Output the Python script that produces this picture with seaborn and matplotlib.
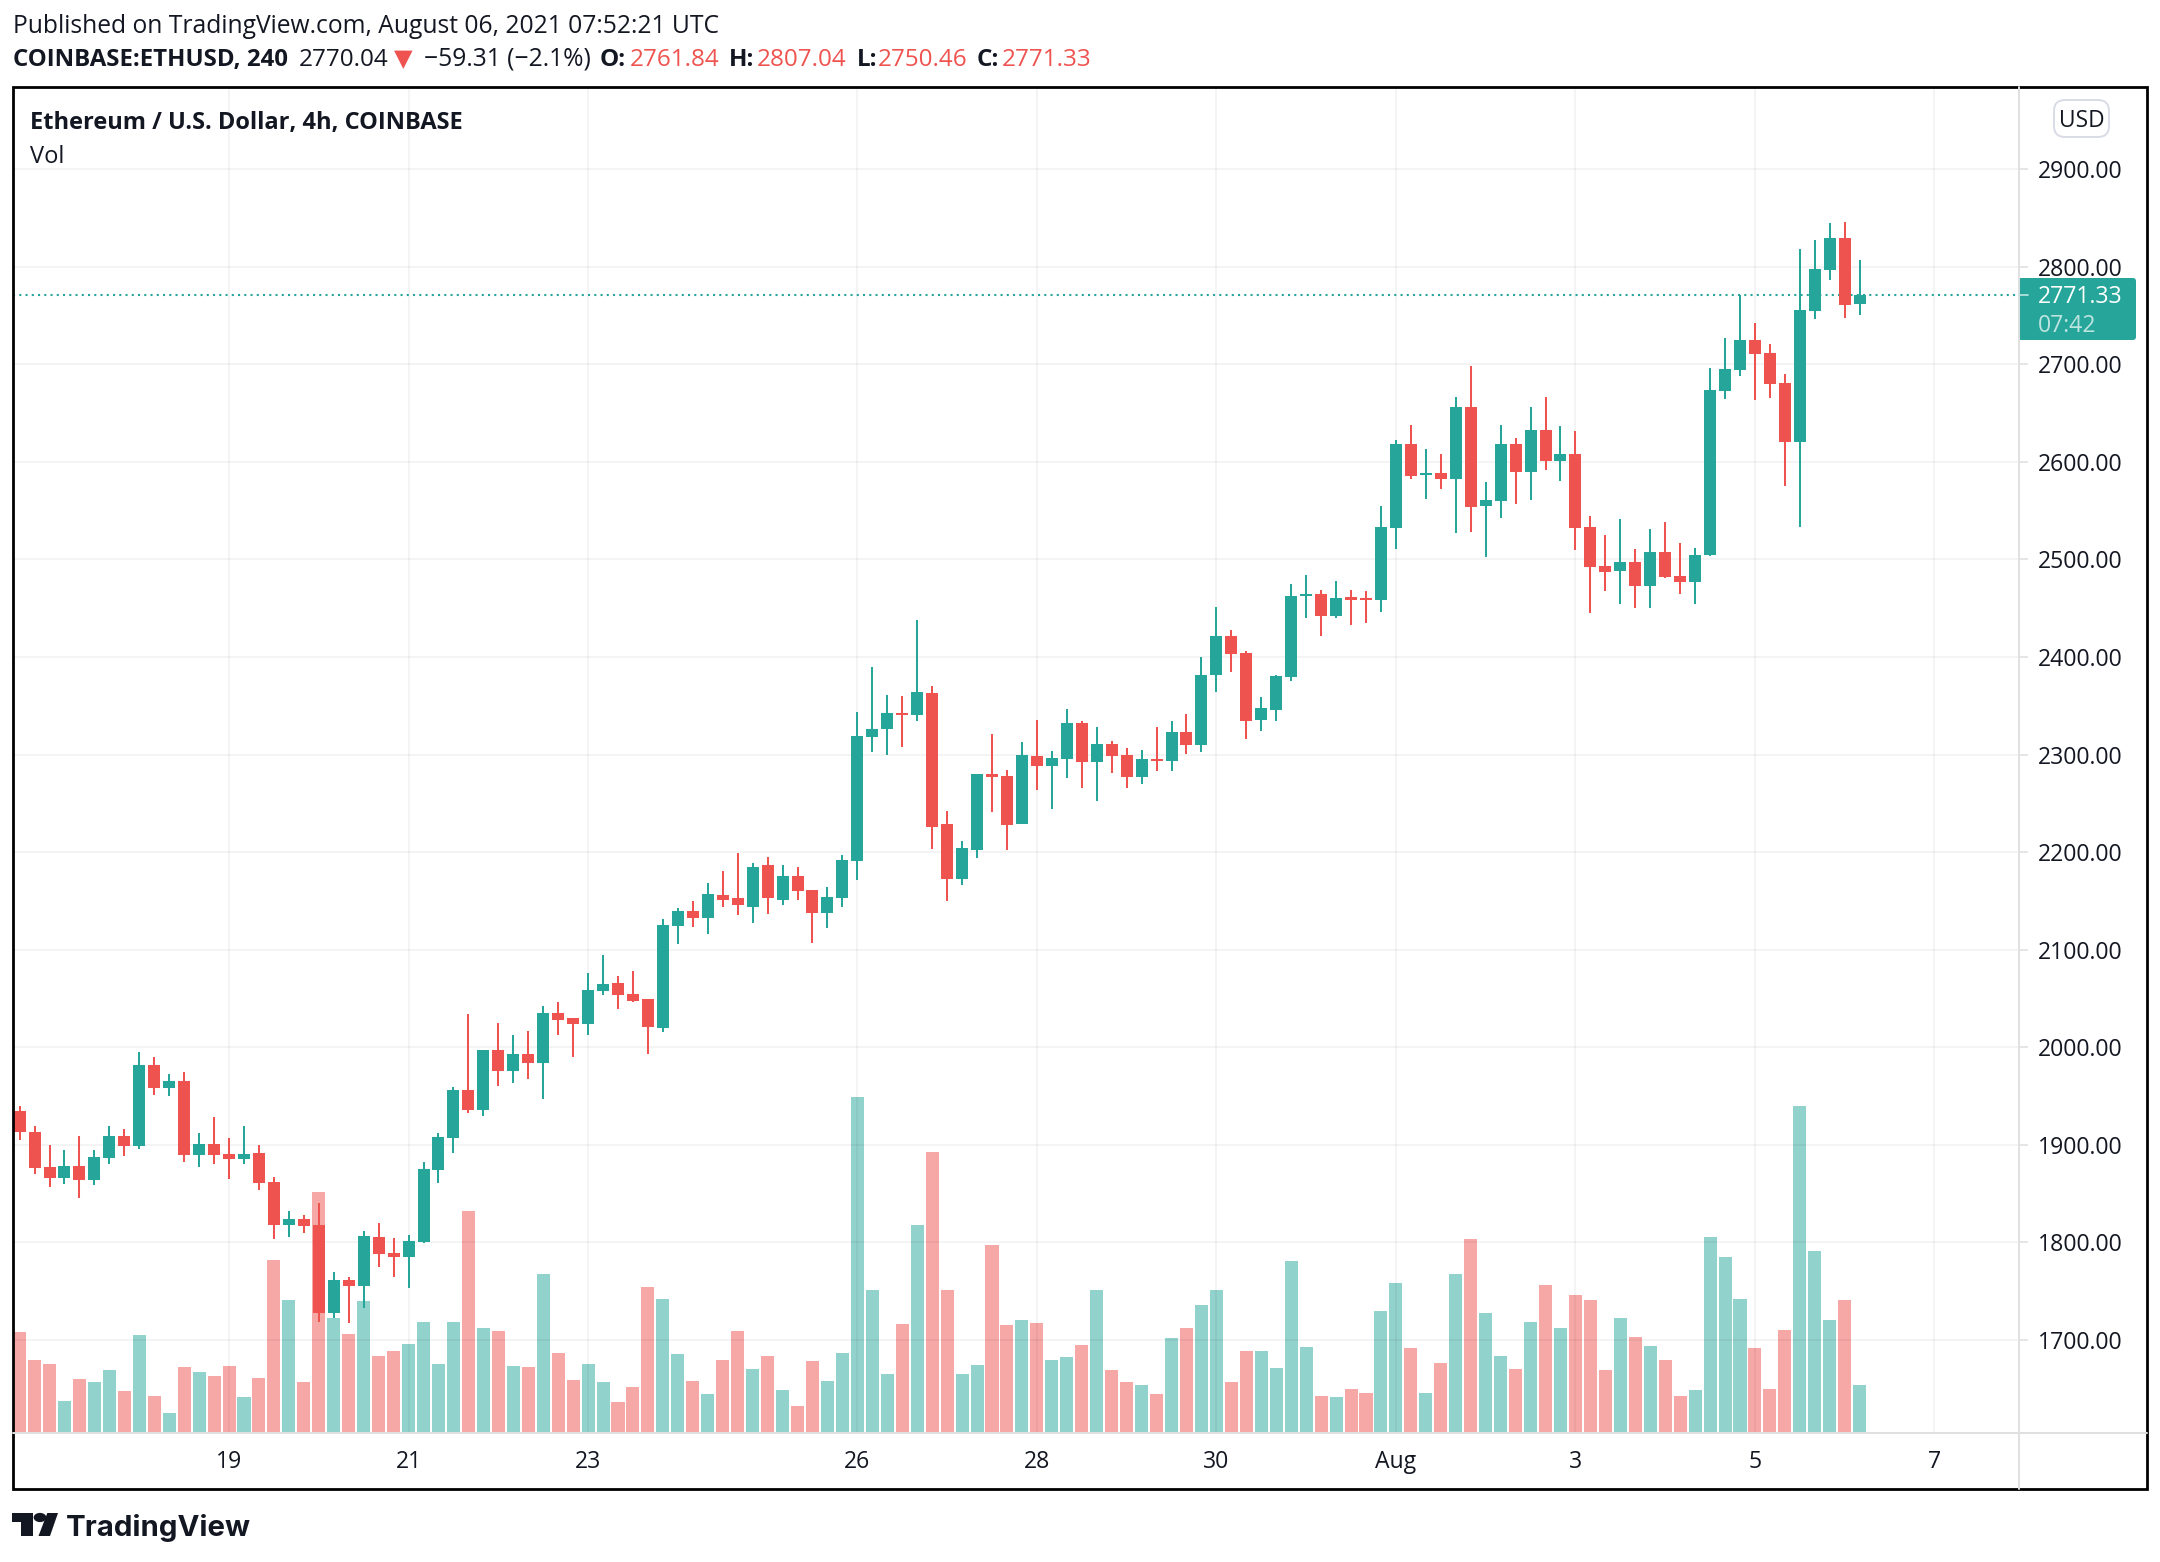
import matplotlib
matplotlib.use("Agg")
import numpy as np
import pandas as pd
import seaborn as sns
import matplotlib.pyplot as plt
from matplotlib.lines import Line2D
from matplotlib.patches import Rectangle, FancyBboxPatch, Polygon, Circle

opens = [1935,1913,1877.5,1866,1878.6,1864,1887,1909.5,1899,1982,1958,1965,1890,1901,1891,1885,1892,1862,1818,1824,
         1818,1727.5,1761.5,1755,1806,1789,1785,1800,1874,1907,1955.7,1936,1997,1976,1993,1983.5,2035,2030,2023.6,2058,
         2065.5,2055,2049,2019.6,2124,2140,2132,2156,2152.8,2144,2186.6,2151,2176,2161,2138,2152.8,2190.4,2317.6,2325.8,2343,
         2341,2362.7,2228.4,2172,2201.7,2279.7,2277.6,2228.4,2299,2288,2295,2332,2292,2310.4,2300,2276.6,2295,2293,2322.7,2309.4,
         2382,2422,2403.8,2335,2346,2379,2463,2465,2442.5,2461,2460,2458,2532,2618,2586,2588.4,2582,2656,2554.8,2560,
         2618,2589.5,2633,2600.7,2608,2533,2493.5,2488.4,2497.6,2473,2508,2483,2477,2505,2672.5,2694,2724.8,2711.5,2680.7,2620,
         2754.5,2796.6,2829.4,2761.84]
highs = [1940,1919.5,1900,1895,1909.5,1895,1919,1916,1995,1990,1973,1975,1912.6,1929,1907,1919,1900,1867,1832.5,1828,
         1840.5,1769.5,1764.5,1812,1820,1804.5,1807.6,1882,1912.6,1959,2034,1997,2024.4,2013,2017,2042,2046,2030,2075.7,2094.4,
         2072.6,2078,2049,2131,2142.5,2149.7,2168,2181,2199.6,2189,2195.5,2186.6,2185,2161,2164,2197,2344,2389.4,2360.7,2359.7,
         2437.6,2370,2241.7,2211,2279.7,2320.7,2283.8,2312.5,2335,2304,2347,2334,2327.9,2313.5,2307,2305,2327.9,2334,2342,2399.7,
         2451,2428,2405.8,2358.6,2382,2474.5,2484.4,2469,2478,2469,2468,2555,2622,2638,2613,2608,2666,2698.6,2579,2638,
         2624,2656,2666,2637,2632,2544.6,2525,2541.5,2511,2531,2538.4,2517,2512,2696,2726.8,2771,2742,2720.7,2690,2818,
         2827,2844.8,2845.8,2807.04]
lows = [1905,1870,1857,1860,1846,1859,1880,1889,1896,1951.5,1950,1882,1877.5,1880.5,1865,1880.5,1854,1803,1806,1809.5,
        1718,1723,1717,1733,1775,1764.5,1753,1799,1861,1892,1933,1930,1960.7,1963.5,1967.5,1947,2012.5,1990,2013,2054,
        2038.8,2046,1993,2015.6,2105.6,2123,2116,2143.4,2136,2127,2137,2145.7,2151,2106.6,2122,2144,2171,2303,2300,2308,
        2334,2202.7,2150.4,2166,2193.5,2240.7,2201.7,2228.4,2264,2243.8,2275.6,2266,2252,2280.7,2266,2270,2282.7,2282.7,2301,2303,
        2363.8,2385,2315.6,2323.8,2334,2375,2440,2422,2439.5,2433,2435,2446.6,2511,2582,2562,2572,2527,2528,2502.7,2542.5,
        2557,2561,2591.5,2580,2510,2444.6,2468,2454.8,2449.7,2450.7,2481,2465,2454.8,2503,2664,2688,2663,2665,2575,2533,
        2746,2786,2747,2750.46]
closes = [1913,1876,1866,1878.6,1864,1888,1909.5,1899,1982,1958,1965,1890,1901,1890,1885,1891,1861,1818,1824,1817,
          1727.5,1761.5,1755,1806.5,1788,1785,1801.5,1875.6,1908,1955.7,1936,1997,1976,1993,1983.5,2035,2027.6,2023.6,2059,2064.6,
          2054,2047,2020.5,2125,2140,2132,2157,2151.4,2145.7,2185,2152.8,2176,2160,2138,2153.7,2192,2318.6,2325.8,2343,2341,
          2363.8,2226,2172,2203.8,2279.7,2276.6,2227.4,2300,2288,2296,2332,2292,2310.4,2299,2276.6,2295,2293,2322.7,2309.4,2382,
          2422,2402.7,2334,2348,2380,2463,2465,2442.5,2460,2458,2458,2533,2618,2585,2588.4,2582,2656,2553.7,2561,2618,
          2589.5,2633,2600.7,2608,2532,2492.5,2487.4,2497.6,2473,2508,2482.3,2477,2505,2673.5,2695,2724.8,2710.4,2679.7,2620,2755.6,
          2797.6,2829.4,2760.7,2771.33]
volumes = [100,72,68,31,53,50,62,41,97,36,19,65,60,56,66,35,54,172,132,50,
           240,114,98,131,76,81,88,110,68,110,221,104,101,66,65,158,79,52,68,50,
           30,45,145,133,78,51,38,72,101,63,76,42,26,71,51,79,335,142,58,108,
           207,280,142,58,67,187,107,112,109,72,75,87,142,62,50,47,38,94,104,127,
           142,50,81,81,64,171,85,36,35,43,39,121,149,84,39,69,158,193,119,76,
           63,110,147,104,137,132,62,114,95,86,72,36,42,195,175,133,84,43,102,326,
           181,112,132,47]
price_ticks = [1700,1800,1900,2000,2100,2200,2300,2400,2500,2600,2700,2800,2900]
date_tick_pos = [14,26,38,56,68,80,92,104,116,128]
date_tick_labels = ["19","21","23","26","28","30","Aug","3","5","7"]

UP, DOWN = "#26A69A", "#EF5350"
INK, LINE = "#131722", "#E0E0E0"

sns.set_theme(style="white")
plt.rcParams["font.family"] = ["Open Sans", "DejaVu Sans"]

W, H = 2160, 1562
fig = plt.figure(figsize=(W / 100, H / 100), dpi=100, facecolor="white")

def fx(x): return x / W
def fy(y): return 1 - y / H

# plot rectangle in pixels
L, R, T, B = 13, 2019, 87, 1433
rect = [fx(L), fy(B), (R - L) / W, (B - T) / H]
x0, dx = 19.6, 14.96
xlim = ((L - x0) / dx, (R - x0) / dx)
y2800, k = 266.7, 100 / 97.57
ylim = (2800 - (B - y2800) * k, 2800 + (y2800 - T) * k)

df = pd.DataFrame({"i": np.arange(len(opens)), "o": opens, "h": highs, "l": lows, "c": closes, "v": volumes})
df["dir"] = np.where(df.c >= df.o, "up", "down")
pal = {"up": UP, "down": DOWN}

# volume pane (beneath the price pane)
ax_v = fig.add_axes(rect, facecolor="white")
sns.barplot(data=df, x="i", y="v", hue="dir", palette=pal, native_scale=True, dodge=False,
            width=0.87, errorbar=None, alpha=0.5, linewidth=0, saturation=1, legend=False, ax=ax_v)
ax_v.set_xlim(xlim)
ax_v.set_ylim(-1.5, B - T - 1.5)
ax_v.axis("off")
ax_v.patch.set_visible(True)

# price pane
ax = fig.add_axes(rect, facecolor="none")
for d, g in df.groupby("dir"):
    ax.vlines(g.i, g.l, g.h, color=pal[d], lw=1.45, zorder=3)
    ax.bar(g.i, (g.c - g.o).abs().clip(lower=1.5), bottom=g[["o", "c"]].min(axis=1), width=0.8,
           color=pal[d], linewidth=0, zorder=4)
ax.set_xlim(xlim)
ax.set_ylim(ylim)
ax.set_xticks(date_tick_pos, date_tick_labels)
ax.set_yticks(price_ticks, [f"{p:.2f}" for p in price_ticks])
ax.yaxis.tick_right()
ax.grid(True, color="black", alpha=0.05, lw=1.2, zorder=0)
ax.set_axisbelow(True)
ax.tick_params(axis="x", length=6.5, width=1.2, color=LINE, pad=5.5, labelsize=16.6, labelcolor=INK)
ax.tick_params(axis="y", length=6.5, width=1.2, color=LINE, pad=7, labelsize=16.6, labelcolor=INK)
for s in ax.spines.values():
    s.set_visible(False)
ax.axhline(closes[-1], color=UP, lw=1.5, ls=(0, (1, 2)), zorder=2)

# frame and separators
FB = 1489
fig.add_artist(Line2D([fx(R), fx(R)], [fy(T), fy(FB)], color=LINE, lw=1.4))
fig.add_artist(Line2D([fx(L), fx(2147)], [fy(B), fy(B)], color=LINE, lw=1.4))
fig.add_artist(Rectangle((fx(L), fy(FB)), (2147 - L) / W, (FB - T) / H, fill=False, ec="black", lw=2.0))

# last price tag
fig.add_artist(FancyBboxPatch((fx(2018), fy(340)), 118 / W, 62 / H, boxstyle="round,pad=0,rounding_size=0.0015",
                              fc=UP, ec="none", mutation_aspect=W / H))
fig.add_artist(Line2D([fx(2019), fx(2028)], [fy(295), fy(295)], color="#BEE4E0", lw=1.2))
fig.text(fx(2038), fy(303), "2771.33", color="white", fontsize=16.6, va="baseline")
fig.text(fx(2038), fy(332), "07:42", color="#BEE4E0", fontsize=16.6, va="baseline")

# currency button
fig.add_artist(FancyBboxPatch((fx(2054), fy(137)), 55 / W, 37 / H, boxstyle="round,pad=0,rounding_size=0.005",
                              fc="white", ec="#D9DCE6", lw=1.4, mutation_aspect=W / H))
fig.text(fx(2082), fy(127), "USD", color=INK, fontsize=16.4, ha="center", va="baseline", fontweight="medium")

# header
def t(x, y, s, c=INK, w="normal", size=17.5, **kw):
    fig.text(fx(x), fy(y), s, color=c, fontweight=w, fontsize=size, va="baseline", **kw)
t(13, 33, "Published on TradingView.com, August 06, 2021 07:52:21 UTC", size=17.7)
t(13, 66, "COINBASE:ETHUSD, 240", w="bold", size=17.3)
t(299, 66, "2770.04")
t(394, 66, "▼", DOWN)
t(424, 66, "−59.31 (−2.1%)", size=17.7)
t(600, 66, "O:", w="bold"); t(630, 66, "2761.84", DOWN)
t(729, 66, "H:", w="bold"); t(757, 66, "2807.04", DOWN)
t(857, 66, "L:", w="bold"); t(878, 66, "2750.46", DOWN)
t(977, 66, "C:", w="bold"); t(1002, 66, "2771.33", DOWN)
t(30, 129, "Ethereum / U.S. Dollar, 4h, COINBASE", w="bold", size=17.05)
t(30, 163, "Vol", size=17.05)

# brand mark
def poly(pts, c=INK):
    fig.add_artist(Polygon([(fx(a), fy(b)) for a, b in pts], closed=True, fc=c, ec="none"))
poly([(12, 1513), (33, 1513), (33, 1536), (21, 1536), (21, 1522), (12, 1522)])
poly([(47.3, 1513), (58, 1513), (50, 1536), (38.5, 1536)])
fig.add_artist(Circle((fx(40), fy(1517.5)), 4.6 / H, fc=INK, ec="none", transform=fig.transFigure))
fig.text(fx(66), fy(1535.5), "TradingView", color=INK, fontsize=21.2, fontfamily="Inter", fontweight="bold", va="baseline")

fig.savefig("out.png", dpi=100)
